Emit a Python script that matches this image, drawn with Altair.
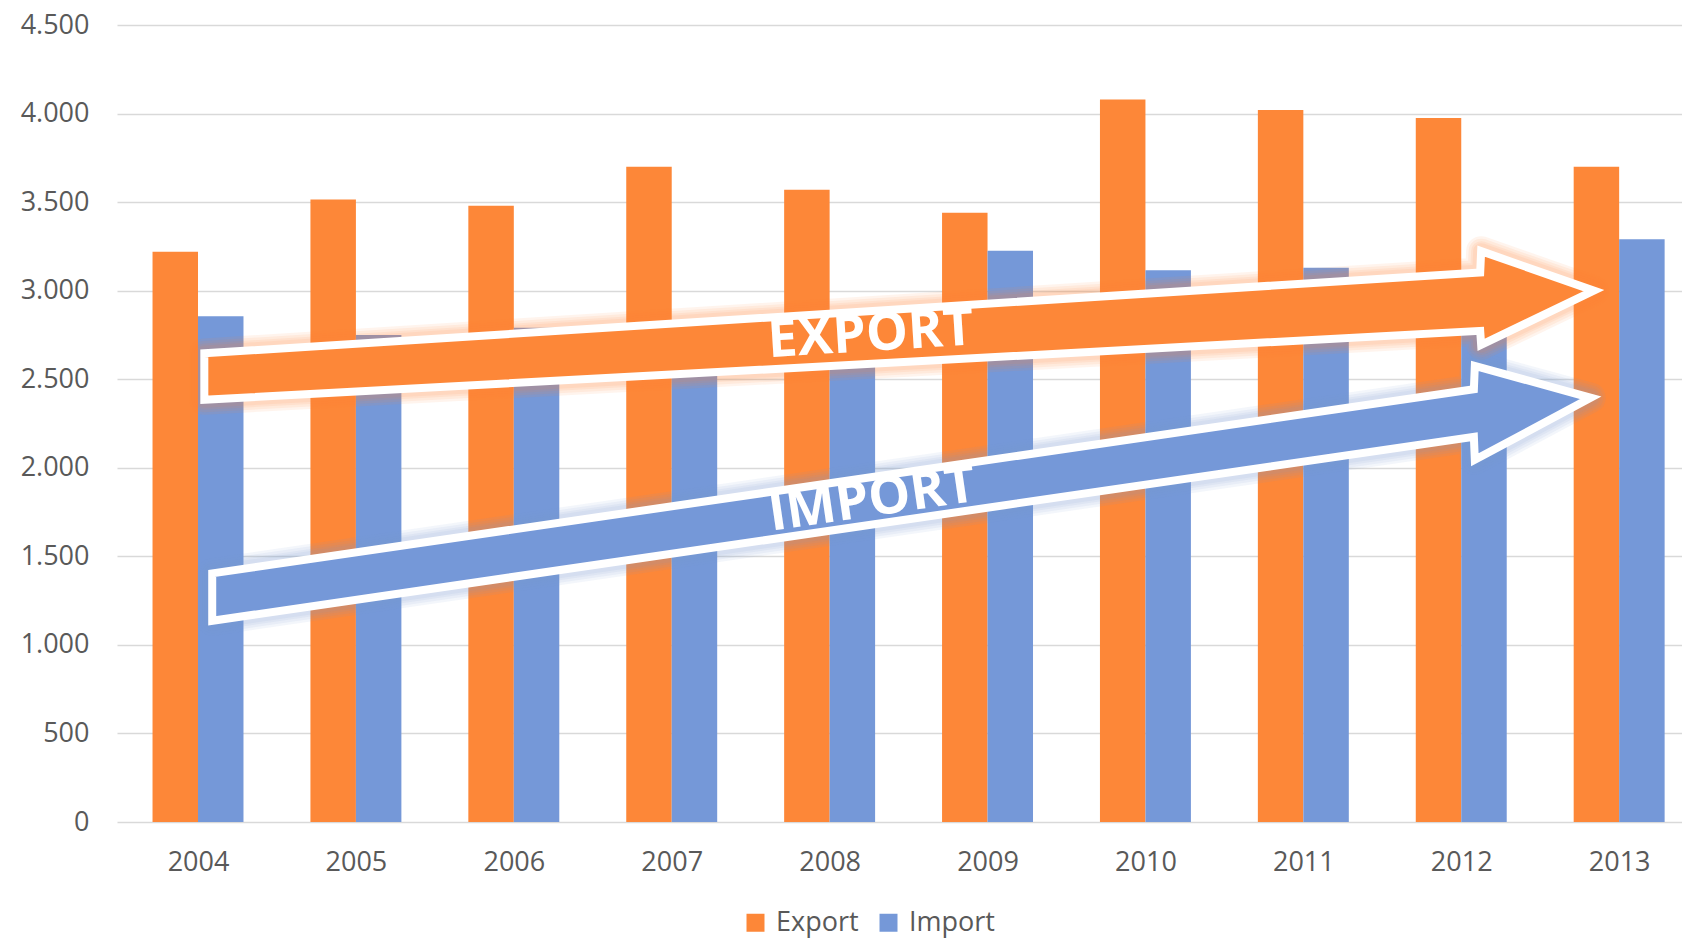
import altair as alt
import pandas as pd

# Annual export / import totals
years = [2004, 2005, 2006, 2007, 2008, 2009, 2010, 2011, 2012, 2013]
export_values = [3220, 3515, 3480, 3700, 3570, 3440, 4080, 4020, 3975, 3700]
import_values = [2855, 2750, 2790, 2660, 2740, 3225, 3115, 3130, 2950, 3290]
series_names = ["Export", "Import"]

# Trend arrows, outlined in data units (x = year, y = value): upper / lower edge
export_arrow_x = [2004.04, 2012.12, 2012.126, 2012.84]
export_arrow_top = [2646, 3103, 3223, 3000]
export_arrow_bottom = [2384, 2773, 2694, 3000]

import_arrow_x = [2004.09, 2012.08, 2012.086, 2012.82]
import_arrow_top = [1404, 2443, 2575, 2395]
import_arrow_bottom = [1136, 2175, 2045, 2395]

# Arrow captions: text, anchor year, anchor value
caption_text = ["EXPORT", "IMPORT"]
caption_x = [2008.26, 2008.27]
caption_y = [2751, 1819]

ORANGE = "#FD8738"
BLUE = "#7598D8"
TEXT_GRAY = "#595959"
GRID_GRAY = "#D9D9D9"
FONT = "Open Sans"
LABEL_SIZE = 27
BAR_W = 0.288  # width of one bar, in years

bars = pd.DataFrame({
    "year": years * 2,
    "series": ["Export"] * len(years) + ["Import"] * len(years),
    "value": export_values + import_values,
})

x_scale = alt.Scale(domain=[2003.487, 2013.398], nice=False, zero=False)
y_scale = alt.Scale(domain=[0, 4500], nice=False)

bar_layer = (
    alt.Chart(bars)
    .transform_calculate(
        x0=f"datum.series == 'Export' ? datum.year - {BAR_W} : datum.year",
        x1=f"datum.series == 'Export' ? datum.year : datum.year + {BAR_W}",
    )
    .mark_bar()
    .encode(
        x=alt.X(
            "x0:Q",
            scale=x_scale,
            title=None,
            axis=alt.Axis(
                values=years, format="d", ticks=False, domain=False, grid=False,
                labelFont=FONT, labelFontSize=LABEL_SIZE, labelColor=TEXT_GRAY,
                labelPadding=27, labelFlush=False,
            ),
        ),
        x2="x1:Q",
        y=alt.Y(
            "value:Q",
            scale=y_scale,
            title=None,
            axis=alt.Axis(
                values=list(range(0, 4501, 500)), ticks=False, domain=False,
                grid=True, gridColor=GRID_GRAY, gridWidth=1.6,
                labelFont=FONT, labelFontSize=LABEL_SIZE, labelColor=TEXT_GRAY,
                labelPadding=28,
                labelExpr="replace(format(datum.value, ','), ',', '.')",
            ),
        ),
        y2=alt.datum(0),
        color=alt.Color(
            "series:N",
            scale=alt.Scale(domain=series_names, range=[ORANGE, BLUE]),
            legend=alt.Legend(
                title="", orient="none", direction="horizontal",
                legendX=625, legendY=884,
                symbolType="square", symbolSize=324, symbolStrokeWidth=0,
                labelFont=FONT, labelFontSize=LABEL_SIZE, labelColor=TEXT_GRAY,
                labelOffset=7, columnPadding=16,
            ),
        ),
    )
)


def arrow_layers(xs, tops, bottoms, color):
    df = pd.DataFrame({"x": xs, "top": tops, "bottom": bottoms})
    enc = dict(
        x=alt.X("x:Q", scale=x_scale, title=None),
        y=alt.Y("top:Q", scale=y_scale, title=None),
        y2="bottom:Q",
    )
    base = alt.Chart(df)
    # soft halo: several widening strokes of low opacity
    halo = [
        base.mark_area(
            fillOpacity=0, stroke=color, strokeOpacity=0.09, strokeWidth=w,
            strokeJoin="round",
        ).encode(**enc)
        for w in (30, 25, 20, 16)
    ]
    body = base.mark_area(
        fill=color, fillOpacity=1, stroke="white", strokeWidth=8,
        strokeJoin="miter",
    ).encode(**enc)
    return halo + [body]


captions = pd.DataFrame({"x": caption_x, "y": caption_y, "label": caption_text})


def caption_layer(i, angle):
    return (
        alt.Chart(captions.iloc[[i]])
        .mark_text(
            font=FONT, fontWeight="bold", fontSize=53, color="white",
            angle=angle, align="center", baseline="middle",
        )
        .encode(
            x=alt.X("x:Q", scale=x_scale, title=None),
            y=alt.Y("y:Q", scale=y_scale, title=None),
            text="label:N",
        )
    )


chart = (
    alt.layer(
        bar_layer,
        *arrow_layers(export_arrow_x, export_arrow_top, export_arrow_bottom, ORANGE),
        *arrow_layers(import_arrow_x, import_arrow_top, import_arrow_bottom, BLUE),
        caption_layer(0, 356.4),
        caption_layer(1, 351.7),
    )
    .properties(
        width=1565,
        height=797,
        autosize=alt.AutoSizeParams(type="none"),
        padding={"left": 117, "top": 25, "right": 0, "bottom": 117},
        background="white",
    )
    .configure_view(stroke=None)
)

chart.save("out.html", embed_options={"renderer": "svg", "actions": False})
